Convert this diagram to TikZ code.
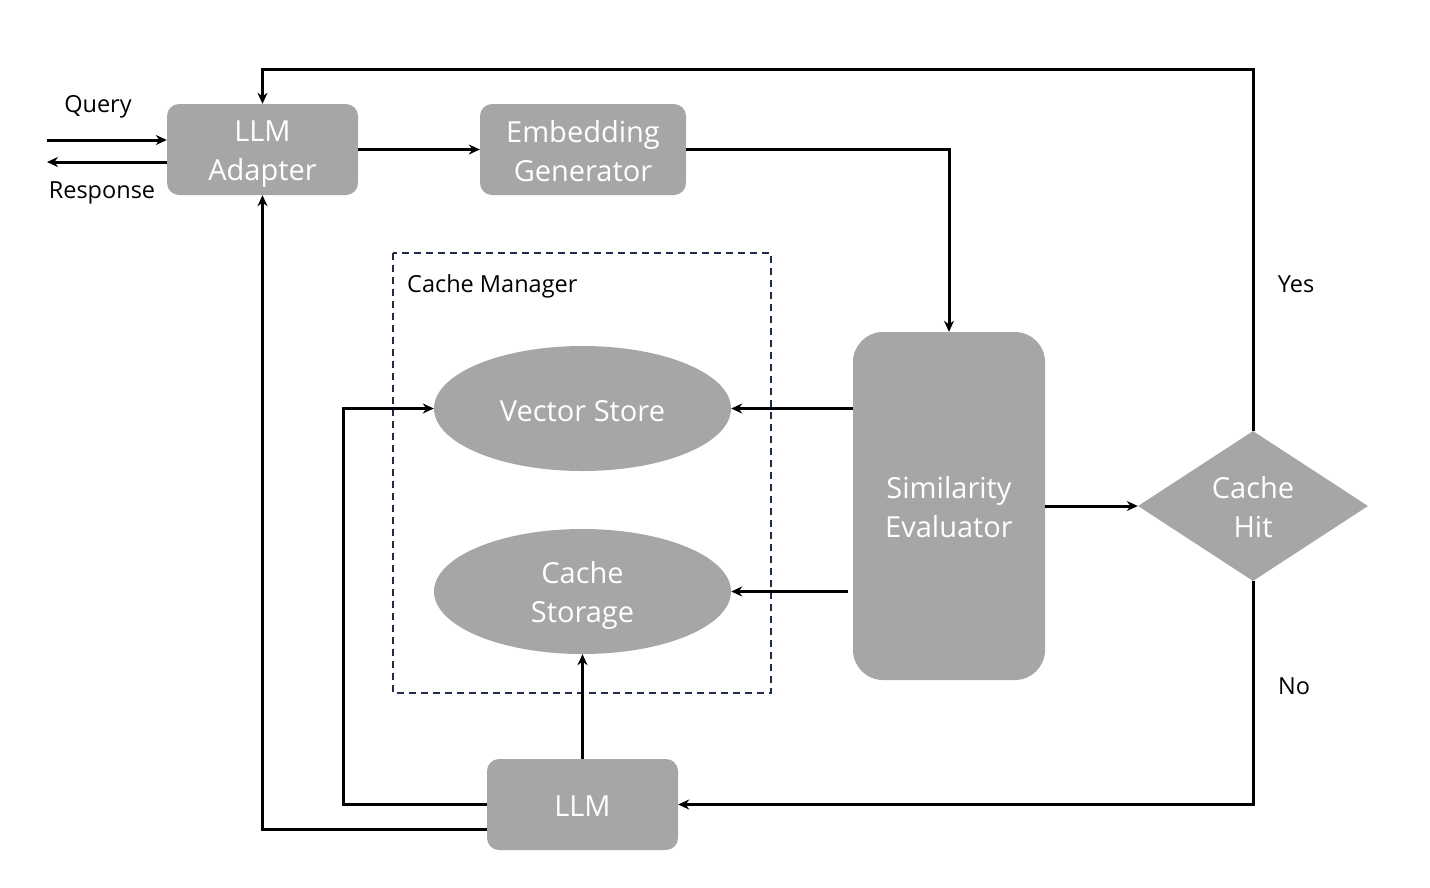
\documentclass[tikz,border=0pt]{standalone}
\usepackage{fontspec}
\setmainfont{Open Sans}
\usetikzlibrary{shapes.geometric,arrows.meta}
\definecolor{boxgray}{HTML}{A6A6A6}
\definecolor{navy}{HTML}{1F2D4A}
\begin{document}
\begin{tikzpicture}[x=1pt,y=-1pt,
  box/.style={fill=boxgray,rounded corners=12pt,minimum width=191pt,minimum height=91pt,inner sep=0pt},
  oval/.style={ellipse,fill=boxgray,minimum width=297pt,minimum height=125pt,inner sep=0pt},
  txt/.style={text=white,font=\fontsize{29}{39}\selectfont,align=center,inner sep=0pt},
  lbl/.style={font=\fontsize{23.5}{27}\selectfont,inner sep=0pt},
  conn/.style={line width=3pt,-{Stealth[length=11pt,width=10pt]}}
]
\useasboundingbox (0,0) rectangle (1430,887);
\node[box] (adapter) at (262.5,149.5) {};
\node[box,minimum width=206pt] (embed) at (583,149.5) {};
\draw[navy,line width=1.5pt,dash pattern=on 7pt off 5pt] (393,253) rectangle (771,693);
\node[lbl,anchor=west] (cm) at (407,286) {Cache Manager};
\node[oval] (vs) at (582.5,408.5) {};
\node[oval] (cs) at (582.5,591.5) {};
\node[box,rounded corners=30pt,minimum width=192pt,minimum height=348pt] (sim) at (949,506) {};
\node[diamond,fill=boxgray,minimum width=230pt,minimum height=150pt,inner sep=0pt,aspect=1.53] (hit) at (1253,506) {};
\node[box] (llm) at (582.5,804.5) {};
\node[txt] (adaptert) at ([yshift=-5pt]adapter.center) {LLM\\Adapter};
\node[txt] (embedt) at ([yshift=-2pt]embed.center) {Embedding\\Generator};
\node[txt] (vst) at ([yshift=-3pt]vs.center) {Vector Store};
\node[txt] (cst) at ([yshift=-4pt]cs.center) {Cache\\Storage};
\node[txt] (simt) at ([yshift=-1pt]sim.center) {Similarity\\Evaluator};
\node[txt] (hitt) at ([yshift=-1pt]hit.center) {Cache\\Hit};
\node[txt] (llmt) at ([yshift=-2pt]llm.center) {LLM};
\node[lbl] (q) at (98,107) {Query};
\node[lbl] (r) at (102,193) {Response};
\node[lbl] (yes) at (1296,284) {Yes};
\node[lbl] (no) at (1294,686) {No};
\coordinate (qs) at (47,140);
\coordinate (rs) at (47,162);
\coordinate (top) at (1253,69);
\coordinate (lloop) at (343,804);
\draw[conn] (qs) -- (qs -| adapter.west);
\draw[conn] (rs -| adapter.west) -- (rs);
\draw[conn] (adapter.east) -- (embed.west);
\draw[conn] (embed.east) -| (sim.north);
\draw[conn] (sim.west |- vs) -- (vs.east);
\draw[conn] ([xshift=-5pt]sim.west |- cs) -- (cs.east);
\draw[conn] (sim.east) -- (hit.west);
\draw[conn] (hit.north) -- (top) -| (adapter.north);
\draw[conn] (hit.south) |- (llm.east);
\draw[conn] (llm.north) -- (cs.south);
\draw[conn] (llm.west |- lloop) -- (lloop) |- (vs.west);
\draw[conn] ([yshift=-24.5pt]llm.west) -| (adapter.south);
\end{tikzpicture}
\end{document}
